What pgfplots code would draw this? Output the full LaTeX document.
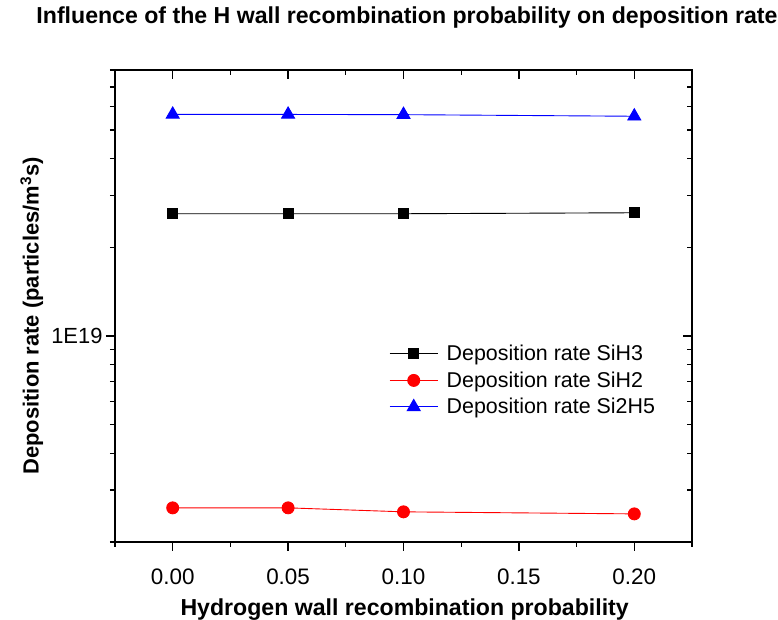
\documentclass[border=0pt]{standalone}
\usepackage{pgfplots}
\pgfplotsset{compat=1.18}
\usepackage{fontspec}
\setmainfont{Liberation Sans}

\definecolor{siblue}{RGB}{0,0,255}
\definecolor{sired}{RGB}{255,0,0}

\begin{document}
\begin{tikzpicture}[x=1bp,y=1bp]
% main axis: left and bottom ticks point outward, carries labels and data
\begin{axis}[
  ymode=log, log basis y=10,
  scale only axis, width=577bp, height=472bp,
  at={(0,0)}, anchor=south west,
  xmin=-0.025, xmax=0.225,
  ymin=2e18, ymax=8e19,
  xtick={0,0.05,0.10,0.15,0.20},
  minor xtick={-0.025,0.025,0.075,0.125,0.175,0.225},
  ytick={1e19},
  minor ytick={2e18,3e18,4e18,5e18,6e18,7e18,8e18,9e18,2e19,3e19,4e19,5e19,6e19,7e19,8e19},
  major tick length=9bp, minor tick length=5bp,
  every tick/.style={black, line width=1.3bp},
  axis line style={line width=1.3bp},
  tick align=outside,
  xtick pos=bottom, ytick pos=left,
  xticklabel style={font=\fontsize{22.5}{26}\selectfont, yshift=-14bp,
    /pgf/number format/.cd, fixed, fixed zerofill, precision=2, assume math mode=true},
  yticklabels={1E19},
  yticklabel style={font=\fontsize{22}{26}\selectfont},
  title={Influence of the H wall recombination probability on deposition rate},
  title style={at={(axis description cs:0.506,1.098)}, anchor=center,
    font=\fontsize{23.2}{28}\selectfont\bfseries},
  xlabel={Hydrogen wall recombination probability},
  every axis x label/.style={at={(axis description cs:0.502,-0.143)}, anchor=center,
    font=\fontsize{23.2}{28}\selectfont\bfseries},
  ylabel={Deposition rate (particles/m\textsuperscript{3}s)},
  every axis y label/.style={at={(axis description cs:-0.144,0.479)}, anchor=center, rotate=90,
    font=\fontsize{22}{26}\selectfont\bfseries},
  legend style={draw=none, fill=none, at={(axis description cs:0.475,0.42)}, anchor=north west,
    font=\fontsize{21.5}{24}\selectfont, row sep=6.5bp, inner sep=0pt,
    nodes={inner sep=1.5bp}},
  legend cell align=left,
  legend image code/.code={
    \draw[mark repeat=2, mark phase=2] plot coordinates {(0bp,0bp) (24bp,0bp) (48bp,0bp)};
    \path (55bp,0bp);
  },
]
\addplot[black, line width=0.9bp, mark=square*, mark size=5bp, mark options={solid}]
  coordinates {(0,2.60e19) (0.05,2.60e19) (0.10,2.60e19) (0.20,2.62e19)};
\addlegendentry{Deposition rate SiH3}
\addplot[sired, line width=0.9bp, mark=*, mark size=6bp, mark options={solid}]
  coordinates {(0,2.61e18) (0.05,2.61e18) (0.10,2.53e18) (0.20,2.49e18)};
\addlegendentry{Deposition rate SiH2}
\addplot[siblue, line width=0.9bp, mark=triangle*, mark size=7.5bp, mark options={solid}]
  coordinates {(0,5.65e19) (0.05,5.65e19) (0.10,5.64e19) (0.20,5.57e19)};
\addlegendentry{Deposition rate Si2H5}
\end{axis}
% mirrored ticks on top and right, pointing inward
\begin{axis}[
  ymode=log, log basis y=10,
  scale only axis, width=577bp, height=472bp,
  at={(0,0)}, anchor=south west,
  xmin=-0.025, xmax=0.225,
  ymin=2e18, ymax=8e19,
  xtick={0,0.05,0.10,0.15,0.20},
  minor xtick={-0.025,0.025,0.075,0.125,0.175,0.225},
  ytick={1e19},
  minor ytick={2e18,3e18,4e18,5e18,6e18,7e18,8e18,9e18,2e19,3e19,4e19,5e19,6e19,7e19,8e19},
  major tick length=9bp, minor tick length=5bp,
  every tick/.style={black, line width=1.3bp},
  axis line style={line width=1.3bp},
  tick align=inside,
  xtick pos=top, ytick pos=right,
  xticklabels={}, yticklabels={},
]
\end{axis}
\pgfresetboundingbox
\path (-115bp,-78bp) rectangle (663bp,542bp);
\end{tikzpicture}
\end{document}
